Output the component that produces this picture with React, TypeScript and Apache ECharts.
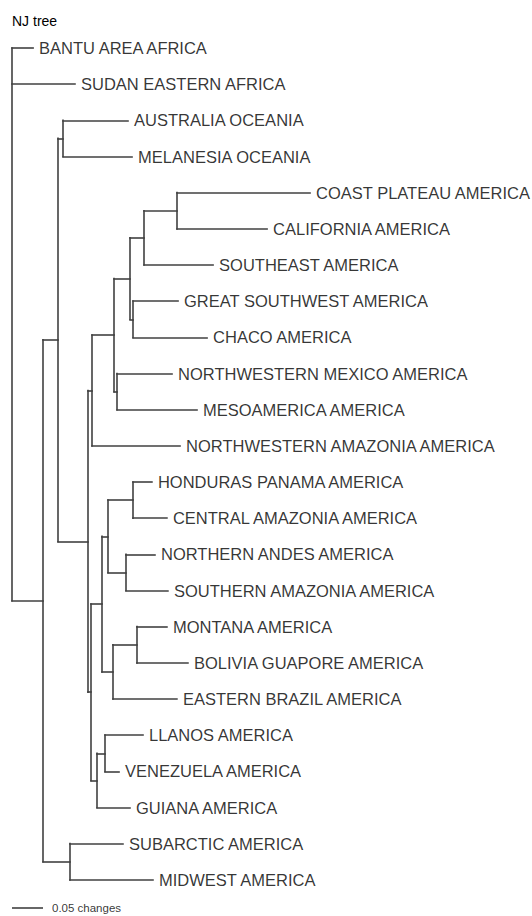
import React, { useEffect, useRef } from "react";
import * as echarts from "echarts";

// Leaf taxa, top to bottom
const taxa = [
  "BANTU AREA AFRICA",
  "SUDAN EASTERN AFRICA",
  "AUSTRALIA OCEANIA",
  "MELANESIA OCEANIA",
  "COAST PLATEAU AMERICA",
  "CALIFORNIA AMERICA",
  "SOUTHEAST AMERICA",
  "GREAT SOUTHWEST AMERICA",
  "CHACO AMERICA",
  "NORTHWESTERN MEXICO AMERICA",
  "MESOAMERICA AMERICA",
  "NORTHWESTERN AMAZONIA AMERICA",
  "HONDURAS PANAMA AMERICA",
  "CENTRAL AMAZONIA AMERICA",
  "NORTHERN ANDES AMERICA",
  "SOUTHERN AMAZONIA AMERICA",
  "MONTANA AMERICA",
  "BOLIVIA GUAPORE AMERICA",
  "EASTERN BRAZIL AMERICA",
  "LLANOS AMERICA",
  "VENEZUELA AMERICA",
  "GUIANA AMERICA",
  "SUBARCTIC AMERICA",
  "MIDWEST AMERICA",
];
const taxonParent = [
  "root", "root", "oceania", "oceania", "coastCal", "coastCal", "f", "g", "g",
  "mexMeso", "mexMeso", "north", "hond", "hond", "andes", "andes", "montBol",
  "montBol", "m", "llaVen", "llaVen", "k", "subMid", "subMid",
];
// branch lengths (changes)
const taxonLength = [
  0.034, 0.1016, 0.1048, 0.1113, 0.2145, 0.1452, 0.1113, 0.0726, 0.1194,
  0.0887, 0.129, 0.1419, 0.0306, 0.0548, 0.0468, 0.0677, 0.0484, 0.0823,
  0.1032, 0.0613, 0.0226, 0.0532, 0.0855, 0.1339,
];

// Internal nodes
const nodeIds = [
  "root", "b", "subMid", "a", "oceania", "americas", "north", "d", "e", "f",
  "coastCal", "g", "mexMeso", "south", "j", "l", "hond", "andes", "m",
  "montBol", "k", "llaVen",
];
const nodeParent = [
  null, "root", "b", "b", "a", "a", "americas", "north", "d", "e", "f", "e",
  "d", "americas", "south", "j", "l", "l", "j", "m", "south", "k",
];
const nodeLength = [
  0, 0.05, 0.0435, 0.0242, 0.0081, 0.0484, 0.0065, 0.0355, 0.0258, 0.0226,
  0.0532, 0.0048, 0.0048, 0.0048, 0.0177, 0.0097, 0.0403, 0.029, 0.0177,
  0.0387, 0.0097, 0.0129,
];

const scaleBarValue = 0.05;
const scaleBarLabel = "0.05 changes";
const title = "NJ tree";

const FONT = "'Liberation Sans', Arial, Helvetica, sans-serif";
const LINE_COLOR = "#404040";

function buildTree() {
  const depth: Record<string, number> = {};
  const nodeY: Record<string, number> = {};
  const childrenY: Record<string, number[]> = {};
  nodeIds.forEach((id) => (childrenY[id] = []));

  const nodeDepth = (id: string): number => {
    if (depth[id] !== undefined) return depth[id];
    const i = nodeIds.indexOf(id);
    const p = nodeParent[i];
    const d = p == null ? 0 : nodeDepth(p) + nodeLength[i];
    depth[id] = d;
    return d;
  };
  nodeIds.forEach((id) => nodeDepth(id));

  const children: Record<string, { kind: "leaf" | "node"; idx: number }[]> = {};
  nodeIds.forEach((id) => (children[id] = []));
  taxonParent.forEach((p, i) => children[p].push({ kind: "leaf", idx: i }));
  nodeParent.forEach((p, i) => {
    if (p != null) children[p].push({ kind: "node", idx: i });
  });

  const yOf = (id: string): number => {
    if (nodeY[id] !== undefined) return nodeY[id];
    const ys = children[id].map((c) =>
      c.kind === "leaf" ? c.idx : yOf(nodeIds[c.idx])
    );
    childrenY[id] = ys;
    const y = (Math.min(...ys) + Math.max(...ys)) / 2;
    nodeY[id] = y;
    return y;
  };
  nodeIds.forEach((id) => yOf(id));

  const segments: number[][][] = [];
  const leaves: { value: number[]; name: string }[] = [];
  taxa.forEach((name, i) => {
    const p = taxonParent[i];
    const d = depth[p] + taxonLength[i];
    segments.push([[depth[p], i], [d, i]]);
    leaves.push({ value: [d, i], name });
  });
  nodeIds.forEach((id, i) => {
    const p = nodeParent[i];
    if (p != null) segments.push([[depth[p], nodeY[id]], [depth[id], nodeY[id]]]);
    const ys = childrenY[id];
    segments.push([[depth[id], Math.min(...ys)], [depth[id], Math.max(...ys)]]);
  });
  return { segments, leaves };
}

export default function App() {
  const ref = useRef<HTMLDivElement>(null);
  useEffect(() => {
    if (!ref.current) return;
    const chart = echarts.init(ref.current, null, { renderer: "svg" });
    const { segments, leaves } = buildTree();
    const rowPx = 36.3;
    const barRow = 23.77;
    chart.setOption({
      animation: false,
      backgroundColor: "#ffffff",
      grid: { left: 12, top: 48, width: 520, height: rowPx * 24 },
      xAxis: { type: "value", min: 0, max: 520 / 620, show: false },
      yAxis: { type: "value", min: 0, max: 24, inverse: true, show: false },
      graphic: [
        {
          type: "text",
          left: 12,
          top: 14,
          style: { text: title, fontSize: 14, fontFamily: FONT, fill: "#000" },
        },
      ],
      series: [
        {
          type: "lines",
          coordinateSystem: "cartesian2d",
          polyline: false,
          silent: true,
          clip: false,
          lineStyle: { color: LINE_COLOR, width: 1.6, cap: "square", opacity: 1 },
          data: segments.map((s) => ({ coords: s })),
        },
        {
          type: "lines",
          coordinateSystem: "cartesian2d",
          silent: true,
          clip: false,
          lineStyle: { color: LINE_COLOR, width: 1.6, opacity: 1 },
          data: [{ coords: [[0, barRow], [scaleBarValue, barRow]] }],
        },
        {
          type: "scatter",
          symbolSize: 0,
          silent: true,
          clip: false,
          data: [{ value: [scaleBarValue, barRow], name: scaleBarLabel }],
          label: {
            show: true,
            position: "right",
            distance: 9,
            formatter: "{b}",
            fontSize: 11.5,
            fontFamily: FONT,
            color: "#000",
          },
        },
        {
          type: "scatter",
          symbolSize: 0,
          silent: true,
          clip: false,
          data: leaves,
          label: {
            show: true,
            position: "right",
            distance: 6,
            formatter: "{b}",
            fontSize: 16.5,
            fontFamily: FONT,
            color: "#000",
          },
        },
      ],
    });
    return () => chart.dispose();
  }, []);
  return (
    <div
      ref={ref}
      style={{ position: "absolute", left: 0, top: 0, width: 532, height: 916 }}
    />
  );
}
